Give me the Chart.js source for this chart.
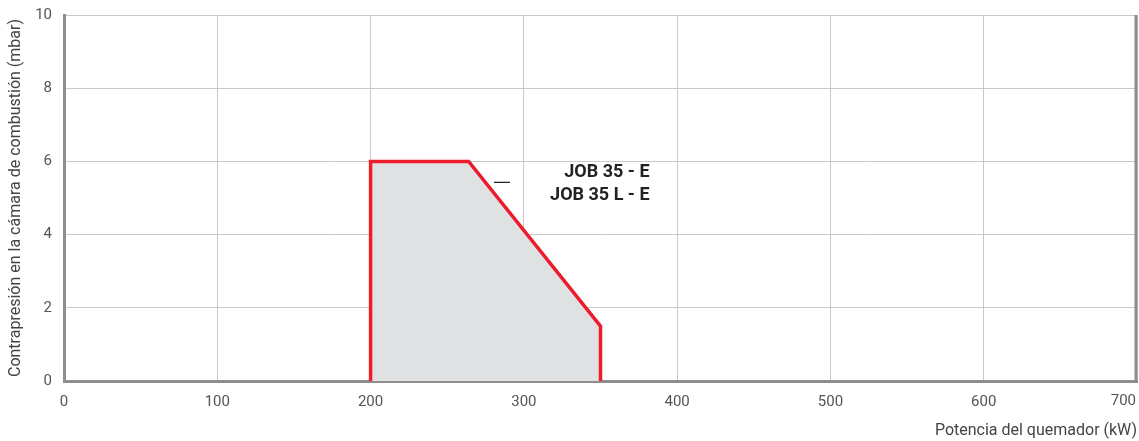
<!DOCTYPE html>
<html>
<head>
<meta charset="utf-8">
<script src="https://cdn.jsdelivr.net/npm/chart.js@4/dist/chart.umd.min.js"></script>
<style>
  html, body { margin: 0; padding: 0; background: #fff; }
  #wrap { width: 1139px; height: 441px; }
</style>
</head>
<body>
<div id="wrap"><canvas id="workChart"></canvas></div>
<script>
// Campo de trabajo del quemador
const potencia = [200, 200, 264, 350, 350];      // kW
const contrapresion = [0, 6, 6, 1.5, 0];          // mbar
const xTicks = [0, 100, 200, 300, 400, 500, 600, 700];
const yTicks = [0, 2, 4, 6, 8, 10];
const modelos = ['JOB 35 - E', 'JOB 35 L - E'];

const points = potencia.map((x, i) => ({ x: x, y: contrapresion[i] }));
const fontFam = 'Roboto, "DejaVu Sans Condensed", sans-serif';

// Leyenda, borde derecho y ultima etiqueta del eje x
const extras = {
    id: 'extras',
    afterDraw(chart) {
        const { ctx, chartArea, scales } = chart;
        ctx.save();
        // borde derecho
        ctx.strokeStyle = '#8e8e91';
        ctx.lineWidth = 3;
        ctx.beginPath();
        ctx.moveTo(chartArea.right - 1, chartArea.top);
        ctx.lineTo(chartArea.right - 1, chartArea.bottom);
        ctx.stroke();

        // etiqueta 700 alineada a la derecha
        ctx.fillStyle = '#555';
        ctx.font = '15px ' + fontFam;
        ctx.textAlign = 'right';
        ctx.textBaseline = 'middle';
        ctx.fillText(String(xTicks[xTicks.length - 1]), chartArea.right - 1, chartArea.bottom + 20);

        // leyenda
        const xr = scales.x.getPixelForValue(382);
        const y1 = scales.y.getPixelForValue(5.7);
        ctx.fillStyle = '#222';
        ctx.font = 'bold 18px ' + fontFam;
        ctx.fillText(modelos[0], xr, y1);
        ctx.fillText(modelos[1], xr, y1 + 23);

        const lx = scales.x.getPixelForValue(280.5);
        ctx.strokeStyle = '#222';
        ctx.lineWidth = 1.3;
        ctx.beginPath();
        ctx.moveTo(lx, y1 + 10);
        ctx.lineTo(lx + 16, y1 + 10);
        ctx.stroke();
        ctx.restore();
    }
};

new Chart(document.getElementById('workChart'), {
    type: 'scatter',
    data: {
        datasets: [{
            data: points,
            showLine: true,
            fill: 'origin',
            backgroundColor: '#e0e1e3',
            borderColor: '#ec1c2c',
            borderWidth: 3.5,
            pointRadius: 0,
            tension: 0
        }]
    },
    options: {
        responsive: true,
        maintainAspectRatio: false,
        animation: false,
        layout: { padding: { top: 15, right: 2, left: 0, bottom: 0 } },
        plugins: {
            legend: { display: false },
            tooltip: { enabled: false }
        },
        scales: {
            x: {
                type: 'linear',
                min: 0,
                max: 700,
                afterBuildTicks: (axis) => { axis.ticks = xTicks.map(v => ({ value: v })); },
                afterFit: (axis) => { axis.height = 60; axis.paddingRight = 0; axis.paddingLeft = 0; },
                grid: { color: '#c9c9c9', lineWidth: 1, drawTicks: false },
                border: { color: '#8e8e91', width: 3 },
                ticks: {
                    color: '#555',
                    padding: 12,
                    maxRotation: 0,
                    callback: (v) => (v === xTicks[xTicks.length - 1] ? '' : String(v)),
                    font: { family: fontFam, size: 15 }
                },
                title: {
                    display: true,
                    text: 'Potencia del quemador (kW)',
                    align: 'end',
                    color: '#444',
                    padding: { top: 6, bottom: 0 },
                    font: { family: fontFam, size: 16 }
                }
            },
            y: {
                min: 0,
                max: 10,
                afterBuildTicks: (axis) => { axis.ticks = yTicks.map(v => ({ value: v })); },
                afterFit: (axis) => { axis.width = 64; axis.paddingTop = 0; axis.paddingBottom = 0; },
                grid: { color: '#c9c9c9', lineWidth: 1, drawTicks: false },
                border: { color: '#8e8e91', width: 3 },
                ticks: {
                    color: '#555',
                    padding: 12,
                    font: { family: fontFam, size: 15 }
                },
                title: {
                    display: true,
                    text: 'Contrapresión en la cámara de combustión (mbar)',
                    color: '#444',
                    padding: { top: 6, bottom: 12 },
                    font: { family: fontFam, size: 16 }
                }
            }
        }
    },
    plugins: [extras]
});
</script>
</body>
</html>
